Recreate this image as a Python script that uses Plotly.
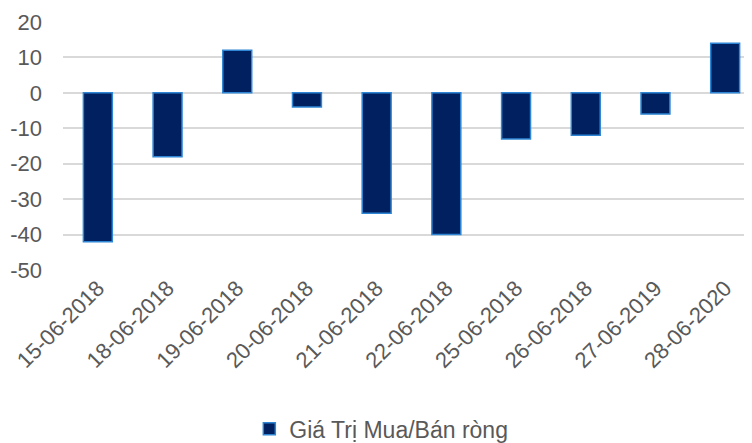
import plotly.graph_objects as go

dates = ["15-06-2018", "18-06-2018", "19-06-2018", "20-06-2018", "21-06-2018",
         "22-06-2018", "25-06-2018", "26-06-2018", "27-06-2019", "28-06-2020"]
values = [-42, -18, 12, -4, -34, -40, -13, -12, -6, 14]
series_name = "Giá Trị Mua/Bán ròng"
y_ticks = [20, 10, 0, -10, -20, -30, -40, -50]
y_tick_labels = ["20", "10", "0", "-10", "-20", "-30", "-40", "-50"]

fig = go.Figure()
fig.add_trace(go.Bar(
    x=dates, y=values, name=series_name,
    marker=dict(color="#002060", line=dict(color="#2E86D4", width=1.5)),
    width=0.415, showlegend=True,
))

font = dict(family="Liberation Sans, Arial, sans-serif", size=22, color="#595959")
legend_font = dict(family="Liberation Sans, Arial, sans-serif", size=23, color="#595959")
# page body has an 8px margin, so the figure is sized/shifted to compensate
fig.update_layout(
    width=744, height=435,
    margin=dict(l=55, r=0, t=14, b=173, autoexpand=False),
    paper_bgcolor="white", plot_bgcolor="white",
    font=font,
    showlegend=True,
    legend=dict(orientation="h", x=0.462, xanchor="center", y=-0.64, yanchor="middle",
                font=legend_font, itemwidth=30),
)
fig.update_xaxes(type="category", range=[-0.5, 9.385], tickangle=-45, showgrid=False,
                 showline=False, ticks="", tickfont=font, automargin=False)
fig.update_yaxes(range=[-50, 20], tickvals=y_ticks, ticktext=y_tick_labels,
                 showgrid=True, gridcolor="#D9D9D9",
                 gridwidth=1.5, zeroline=True, zerolinecolor="#D9D9D9", zerolinewidth=1.5,
                 showline=False, ticks="", tickfont=font, ticklabelstandoff=20,
                 automargin=False)

fig.write_html("out.html")
